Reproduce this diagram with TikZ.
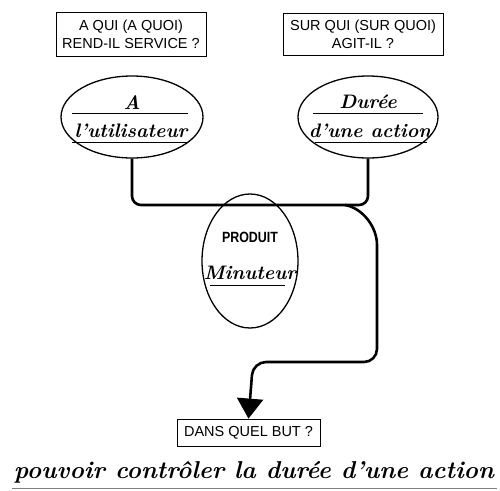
\documentclass[tikz,border=0pt]{standalone}
\usepackage{fontspec}
\setsansfont{Liberation Sans}
\usetikzlibrary{shapes.geometric,arrows.meta}
\begin{document}
\begin{tikzpicture}[x=1pt,y=-1pt,
 qbox/.style={draw,line width=0.8pt,inner sep=0pt,font=\sffamily\fontsize{14.5}{18}\selectfont,align=center},
 oval/.style={ellipse,draw,line width=1.3pt,inner sep=0pt},
 script/.style={font=\bfseries\itshape\fontsize{19.5}{20}\selectfont,anchor=base,inner sep=0pt},
 uline/.style={line width=0.9pt},
 conn/.style={line width=2.6pt,rounded corners=9pt}]
\useasboundingbox (0,0) rectangle (500,490);
% question boxes
\node[qbox,minimum width=150pt,minimum height=44pt] (Q1) at (131,34) {A QUI (A QUOI)\\REND-IL SERVICE ?};
\node[qbox,minimum width=160pt,minimum height=42pt] (Q2) at (363,34) {SUR QUI (SUR QUOI)\\AGIT-IL ?};
\node[qbox,minimum width=143pt,minimum height=27pt] (D) at (248.5,432.5) {DANS QUEL BUT ?};
% ellipses
\node[oval,minimum width=142pt,minimum height=82pt] (L) at (132,117) {};
\node[oval,minimum width=140pt,minimum height=82pt] (R) at (368,117) {};
\node[oval,minimum width=96pt,minimum height=134pt] (P) at (250,261) {};
% texts in ellipses
\node[script] (tA) at (132,109) {A};
\node[script] (tU) at (131,137) {l'utilisateur};
\node[script] (tD) at (368,108) {Durée};
\node[script] (tE) at (370,137) {d'une action};
\node[font=\sffamily\bfseries\fontsize{13.5}{15}\selectfont,anchor=base,inner sep=0pt] (tP) at (250,242) {\scalebox{0.92}[1.1]{PRODUIT}};
\node[script] (tM) at (250,279) {Minuteur};
\draw[uline] (72,113) -- (188,113);
\draw[uline] (72,142) -- (188,142);
\draw[uline] (313,113) -- (423,113);
\draw[uline] (315,142) -- (427,142);
\draw[uline] (210,285) -- (285,285);
% connectors
\coordinate (hy) at (0,205);
\draw[conn] (L.south) -- (L.south |- hy) -- (R.south |- hy) -- (R.south);
\coordinate (br) at (345,205);
\coordinate (v1) at (377,245);
\coordinate (v2) at (377,362);
\coordinate (v3) at (253,362);
\draw[line width=2.6pt,-{Triangle[width=26pt,length=20pt]}] (br) to[out=-10,in=90,looseness=0.9] (v1) [rounded corners=13pt] -- (v2) -- (v3) -- (D.north);
% function statement
\node[anchor=base,inner sep=0pt] (F) at (254,478) {\resizebox{480pt}{!}{\bfseries\itshape pouvoir contrôler la durée d'une action}};
\draw[line width=0.5pt,gray] (12,488) -- (497,488);
\end{tikzpicture}
\end{document}
